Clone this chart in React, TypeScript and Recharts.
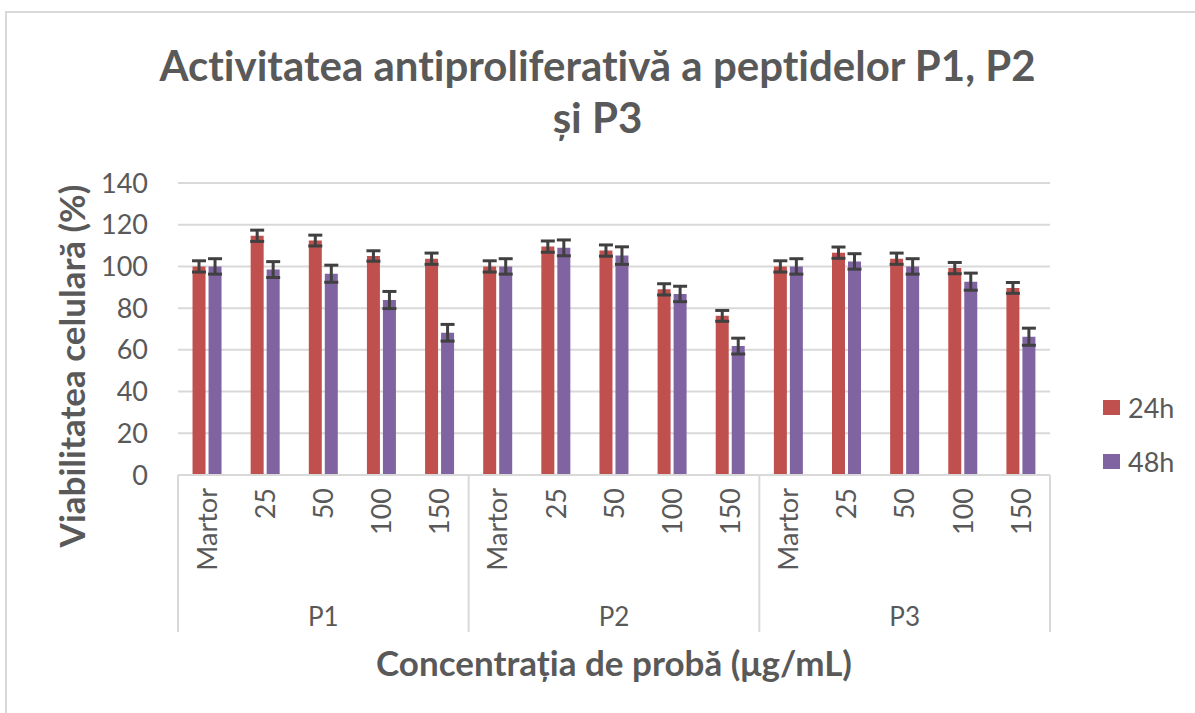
import { BarChart, Bar, XAxis, YAxis, CartesianGrid, ErrorBar } from 'recharts';

const concLabels = ['Martor', '25', '50', '100', '150', 'Martor', '25', '50', '100', '150', 'Martor', '25', '50', '100', '150'];
const groups = ['P1', 'P2', 'P3'];
const yTicks = [0, 20, 40, 60, 80, 100, 120, 140];
const seriesNames = ['24h', '48h'];
const seriesColors = ['#C0504D', '#8064A2'];

const values24 = [100, 114.7, 112.4, 105, 103.7, 100, 109.5, 107.6, 89, 76.3, 100, 106.6, 103.7, 99.2, 89.7];
const err24 = [2.7, 2.7, 2.6, 2.5, 2.7, 2.7, 2.7, 2.7, 2.7, 2.6, 2.7, 2.7, 2.7, 2.7, 2.6];
const values48 = [100, 98.5, 96.5, 83.9, 68.2, 100, 108.9, 105.2, 86.8, 61.8, 100, 102.4, 100, 92.7, 66.3];
const err48 = [3.7, 3.8, 4.1, 4.1, 4, 3.7, 3.8, 4.2, 3.7, 3.8, 3.7, 3.7, 3.7, 4.1, 4.1];

const data = concLabels.map((label, i) => ({
  key: `${groups[Math.floor(i / 5)]}-${label}`,
  v24: values24[i],
  e24: err24[i],
  v48: values48[i],
  e48: err48[i],
}));

const W = 1195;
const H = 713;
const PLOT_LEFT = 178;
const PLOT_RIGHT = 1050;
const PLOT_TOP = 183;
const PLOT_BOTTOM = 475;
const BOX_BOTTOM = 632;
const BAND = (PLOT_RIGHT - PLOT_LEFT) / concLabels.length;
const TEXT = '#595959';
const FONT = 'Lato, "Open Sans", sans-serif';
const NOLIG = { fontVariantLigatures: 'none' as const };

const XTick = (props: any) => {
  const { x, index } = props;
  const label = concLabels[index];
  return (
    <g>
      <text
        transform={`translate(${x},${PLOT_BOTTOM + 13}) rotate(-90)`}
        textAnchor="end"
        dy="0.36em"
        fontSize={27}
        fill={TEXT}
        fontFamily={FONT}
      >
        {label}
      </text>
      {index % 5 === 0 && (
        <line x1={x - BAND / 2} x2={x - BAND / 2} y1={PLOT_BOTTOM} y2={BOX_BOTTOM} stroke="#d9d9d9" strokeWidth={2} />
      )}
      {index === concLabels.length - 1 && (
        <line x1={x + BAND / 2} x2={x + BAND / 2} y1={PLOT_BOTTOM} y2={BOX_BOTTOM} stroke="#d9d9d9" strokeWidth={2} />
      )}
      {index % 5 === 2 && (
        <text x={x} y={617} textAnchor="middle" dy="0.36em" fontSize={26} fill={TEXT} fontFamily={FONT}>
          {groups[Math.floor(index / 5)]}
        </text>
      )}
    </g>
  );
};

const App = () => {
  return (
    <div style={{ position: 'absolute', left: 0, top: 0, width: W, height: H, background: '#fff', overflow: 'hidden', fontFamily: FONT, ...NOLIG }}>
      <div style={{ position: 'absolute', left: 5, top: 11, width: W + 20, height: H + 20, border: '2px solid #d9d9d9', boxSizing: 'border-box' }} />
      <div
        style={{
          position: 'absolute', left: 0, top: 39, width: W, textAlign: 'center', color: TEXT,
          fontWeight: 700, fontSize: 42, lineHeight: '52px',
        }}
      >
        Activitatea antiproliferativă a peptidelor P1, P2
        <br />
        și P3
      </div>
      <div
        style={{
          position: 'absolute', left: 71, top: 366, transform: 'translate(-50%, -50%) rotate(-90deg)',
          whiteSpace: 'nowrap', color: TEXT, fontWeight: 700, fontSize: 35,
        }}
      >
        Viabilitatea celulară (%)
      </div>
      <div
        style={{
          position: 'absolute', left: 614, top: 662, transform: 'translate(-50%, -50%)',
          whiteSpace: 'nowrap', color: TEXT, fontWeight: 700, fontSize: 35,
        }}
      >
        Concentrația de probă (μg/mL)
      </div>
      <div style={{ position: 'absolute', left: 1103, top: 380, color: TEXT, fontSize: 27 }}>
        {seriesNames.map((name, i) => (
          <div key={name} style={{ display: 'flex', alignItems: 'center', height: 54 }}>
            <span style={{ width: 17, height: 15, background: seriesColors[i], display: 'inline-block', marginRight: 8 }} />
            <span>{name}</span>
          </div>
        ))}
      </div>
      <div style={{ position: 'absolute', left: 0, top: 0 }}>
        <BarChart
          width={W}
          height={H}
          data={data}
          margin={{ top: PLOT_TOP, right: W - PLOT_RIGHT, bottom: H - BOX_BOTTOM, left: 0 }}
          barCategoryGap="25%"
          barGap={3}
        >
          <CartesianGrid vertical={false} stroke="#d9d9d9" strokeWidth={2} />
          <XAxis
            dataKey="key"
            height={BOX_BOTTOM - PLOT_BOTTOM}
            interval={0}
            tickLine={false}
            axisLine={{ stroke: '#d9d9d9', strokeWidth: 2 }}
            tick={<XTick />}
          />
          <YAxis
            width={PLOT_LEFT}
            domain={[0, 140]}
            ticks={yTicks}
            tickLine={false}
            axisLine={false}
            tickSize={0}
            tickMargin={30}
            tick={{ fontSize: 27, fill: TEXT, fontFamily: FONT }}
          />
          <Bar dataKey="v24" name={seriesNames[0]} fill={seriesColors[0]} isAnimationActive={false}>
            <ErrorBar dataKey="e24" width={7} strokeWidth={3} stroke="#404040" />
          </Bar>
          <Bar dataKey="v48" name={seriesNames[1]} fill={seriesColors[1]} isAnimationActive={false}>
            <ErrorBar dataKey="e48" width={7} strokeWidth={3} stroke="#404040" />
          </Bar>
        </BarChart>
      </div>
    </div>
  );
};

export default App;
